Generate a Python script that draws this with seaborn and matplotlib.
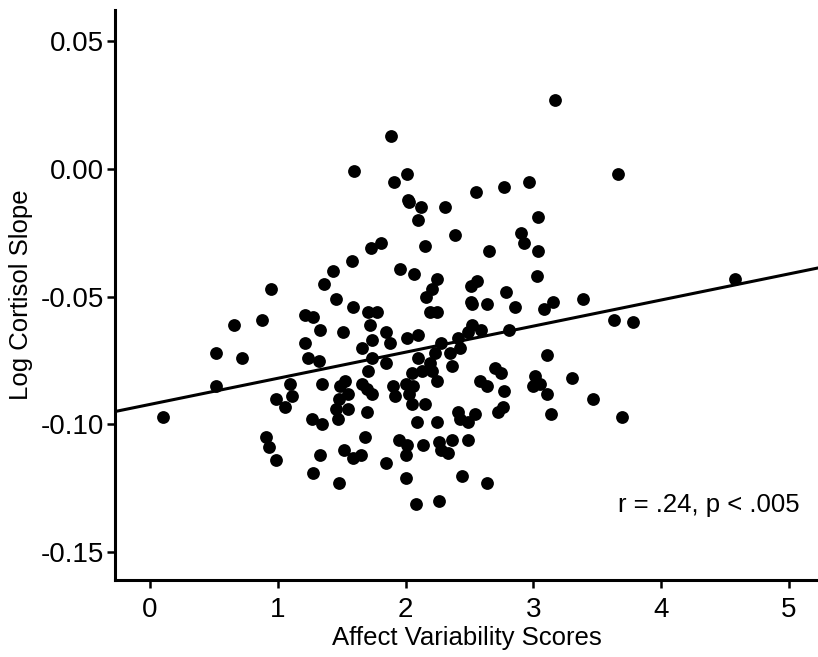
import matplotlib
matplotlib.use("Agg")
import matplotlib.pyplot as plt
from matplotlib.ticker import FormatStrFormatter
import pandas as pd
import seaborn as sns

# values
affect_var = [
    3.17, 1.89, 1.60, 1.91, 2.01, 2.55, 2.77, 2.97, 2.02, 2.03, 2.12, 2.31, 2.10, 3.04, 3.66,
    1.58, 1.43, 1.36, 0.95, 1.46, 1.21, 1.28, 0.88, 0.66, 1.33, 1.51, 1.21, 0.52, 0.72, 1.24, 1.32,
    1.73, 1.81, 2.15, 2.39, 2.90, 2.93, 2.65, 3.04, 1.96, 2.07, 3.03, 2.25, 2.21, 2.16, 2.56, 2.51,
    2.79, 2.51, 2.52, 2.64, 2.86, 3.15, 3.08, 1.59, 1.71, 1.78, 2.19, 2.25, 1.72, 2.52, 2.59, 2.81,
    1.85, 1.88, 2.01, 2.10, 1.74, 2.41, 2.49, 2.28, 2.43, 1.66, 1.74, 2.10, 2.23, 2.35, 3.11, 1.85,
    2.19, 2.36, 1.71, 2.70, 2.75, 3.01, 2.05, 2.13, 2.21,
    3.39, 4.58, 3.63, 3.78, 3.30, 3.47, 3.69,
    0.52, 0.10, 1.10, 1.35, 1.49, 1.55, 0.99, 1.11, 1.06, 1.48, 1.46, 1.55, 1.47, 1.27, 1.35, 0.91,
    0.93, 0.99, 1.52, 1.33, 1.28, 1.48,
    2.25, 1.53, 1.66, 1.70, 1.74, 1.90, 2.00, 2.06, 1.92, 2.03, 2.05, 2.15, 1.70, 2.09, 2.25, 2.41,
    2.43, 2.49, 2.54, 2.58, 2.64, 2.77, 2.72, 2.76, 3.05, 3.00, 3.11, 3.14,
    1.68, 1.59, 1.65, 1.85, 1.95, 2.01, 2.00, 2.14, 2.26, 2.28, 2.33, 2.36, 2.49, 2.00, 2.44, 2.64,
    2.08, 2.26,
]
log_cortisol = [
    0.027, 0.013, -0.001, -0.005, -0.002, -0.009, -0.007, -0.005, -0.012, -0.013, -0.015, -0.015,
    -0.020, -0.019, -0.002,
    -0.036, -0.040, -0.045, -0.047, -0.051, -0.057, -0.058, -0.059, -0.061, -0.063, -0.064, -0.068,
    -0.072, -0.074, -0.074, -0.075,
    -0.031, -0.029, -0.030, -0.026, -0.025, -0.029, -0.032, -0.032, -0.039, -0.041, -0.042, -0.043,
    -0.047, -0.050, -0.044, -0.046, -0.048, -0.052, -0.053, -0.053, -0.054, -0.052, -0.055, -0.054,
    -0.056, -0.056, -0.056, -0.056, -0.061, -0.061, -0.063, -0.063, -0.064, -0.068, -0.066, -0.065,
    -0.067, -0.066, -0.064, -0.068, -0.070, -0.070, -0.074, -0.074, -0.072, -0.072, -0.073, -0.076,
    -0.076, -0.077, -0.079, -0.078, -0.080, -0.081, -0.080, -0.079, -0.079,
    -0.051, -0.043, -0.059, -0.060, -0.082, -0.090, -0.097,
    -0.085, -0.097, -0.084, -0.084, -0.085, -0.088, -0.090, -0.089, -0.093, -0.090, -0.094, -0.094,
    -0.098, -0.098, -0.100, -0.105, -0.109, -0.114, -0.110, -0.112, -0.119, -0.123,
    -0.083, -0.083, -0.084, -0.086, -0.088, -0.085, -0.084, -0.085, -0.089, -0.088, -0.092, -0.092,
    -0.095, -0.099, -0.099, -0.095, -0.098, -0.099, -0.096, -0.083, -0.085, -0.087, -0.095, -0.093,
    -0.084, -0.085, -0.088, -0.096,
    -0.105, -0.113, -0.112, -0.115, -0.106, -0.108, -0.112, -0.108, -0.107, -0.110, -0.111, -0.106,
    -0.106, -0.121, -0.120, -0.123, -0.131, -0.130,
]
x_ticks = [0, 1, 2, 3, 4, 5]
y_ticks = [-0.15, -0.10, -0.05, 0.00, 0.05]
stats_text = "r = .24, p < .005"

df = pd.DataFrame({"Affect Variability Scores": affect_var,
                   "Log Cortisol Slope": log_cortisol})

sns.set_style("ticks")
plt.rcParams["font.family"] = ["Liberation Sans", "DejaVu Sans"]
plt.rcParams["axes.unicode_minus"] = False
plt.rcParams["text.color"] = "black"
plt.rcParams["axes.labelcolor"] = "black"
plt.rcParams["xtick.color"] = "black"
plt.rcParams["ytick.color"] = "black"

fig = plt.figure(figsize=(8.18, 6.57), dpi=100)
ax = fig.add_axes([0.141, 0.117, 0.859, 0.868])
xlim = (-0.27, 5.227)
ylim = (-0.1609, 0.0622)
ax.set_xlim(xlim)
ax.set_ylim(ylim)

sns.regplot(data=df, x="Affect Variability Scores", y="Log Cortisol Slope",
            ci=None, truncate=False, color="black", ax=ax,
            scatter_kws={"s": 85, "alpha": 1, "linewidths": 0},
            line_kws={"lw": 2.2, "color": "black"})

ax.set_xlim(xlim)
ax.set_ylim(ylim)
ax.set_xticks(x_ticks)
ax.set_yticks(y_ticks)
ax.yaxis.set_major_formatter(FormatStrFormatter("%.2f"))
ax.tick_params(axis="both", length=6, width=1.8, labelsize=20, color="black")
ax.tick_params(axis="y", pad=2)
ax.tick_params(axis="x", pad=6)
sns.despine(ax=ax)
for side in ["left", "bottom"]:
    ax.spines[side].set_linewidth(2.2)
    ax.spines[side].set_color("black")

ax.set_xlabel("Affect Variability Scores", fontsize=18.5, labelpad=2)
ax.set_ylabel("Log Cortisol Slope", fontsize=18.5, labelpad=6)
ax.text(0.716, 0.119, stats_text, transform=ax.transAxes, fontsize=18.5,
        ha="left", va="baseline")

fig.savefig("out.png", dpi=100)
